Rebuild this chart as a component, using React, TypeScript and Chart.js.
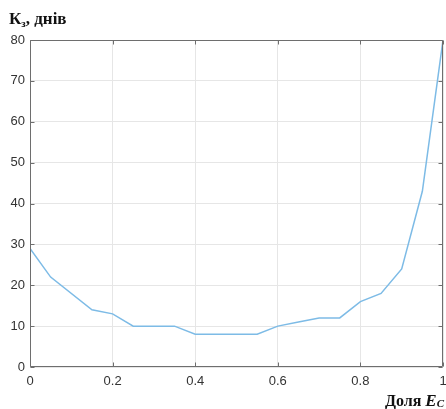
import React, { useEffect, useRef } from "react";
import { Chart, registerables } from "chart.js";

Chart.register(...registerables);

const shareX = [0, 0.05, 0.15, 0.2, 0.25, 0.35, 0.4, 0.55, 0.6, 0.65, 0.7, 0.75, 0.8, 0.85, 0.9, 0.95, 1.0];
const kzDays = [29, 22, 14, 13, 10, 10, 8, 8, 10, 11, 12, 12, 16, 18, 24, 43, 80];
const xTicks = [0, 0.2, 0.4, 0.6, 0.8, 1];
const yTicks = [0, 10, 20, 30, 40, 50, 60, 70, 80];

const AXIS_COLOR = "#6e6e6e";
const SERIF = "'Liberation Serif', 'DejaVu Serif', serif";

const boxPlugin = {
  id: "boxPlugin",
  afterDraw(chart: any) {
    const { ctx, chartArea: a, scales } = chart;
    ctx.save();
    ctx.strokeStyle = AXIS_COLOR;
    ctx.lineWidth = 1;
    const L = Math.round(a.left) + 0.5, R = Math.round(a.right) - 0.5;
    const T = Math.round(a.top) + 0.5, B = Math.round(a.bottom) - 0.5;
    ctx.beginPath();
    ctx.rect(L, T, R - L, B - T);
    ctx.stroke();
    const tl = 4;
    ctx.beginPath();
    for (const v of xTicks) {
      const x = Math.round(scales.x.getPixelForValue(v)) + 0.5;
      ctx.moveTo(x, B); ctx.lineTo(x, B - tl);
      ctx.moveTo(x, T); ctx.lineTo(x, T + tl);
    }
    for (const v of yTicks) {
      const y = Math.round(scales.y.getPixelForValue(v)) + 0.5;
      ctx.moveTo(L, y); ctx.lineTo(L + tl, y);
      ctx.moveTo(R, y); ctx.lineTo(R - tl, y);
    }
    ctx.stroke();

    // y-axis title: Кз, днів
    ctx.fillStyle = "#111";
    ctx.textBaseline = "alphabetic";
    ctx.textAlign = "left";
    let x = 9;
    const yb = 24;
    ctx.font = `bold 17px ${SERIF}`;
    ctx.fillText("К", x, yb);
    x += ctx.measureText("К").width;
    ctx.font = `bold 11px ${SERIF}`;
    ctx.fillText("з", x, yb + 3);
    x += ctx.measureText("з").width;
    ctx.font = `bold 17px ${SERIF}`;
    ctx.fillText(", днів", x, yb);

    // x-axis title: Доля Ec
    const xb = 406;
    ctx.font = `bold italic 11px ${SERIF}`;
    const wc = ctx.measureText("C").width;
    ctx.font = `bold italic 17px ${SERIF}`;
    const we = ctx.measureText("E").width;
    ctx.font = `bold 16px ${SERIF}`;
    const wd = ctx.measureText("Доля ").width;
    let sx = 444 - wc - we - wd;
    ctx.fillText("Доля ", sx, xb);
    sx += wd;
    ctx.font = `bold italic 17px ${SERIF}`;
    ctx.fillText("E", sx, xb);
    sx += we;
    ctx.font = `bold italic 11px ${SERIF}`;
    ctx.fillText("C", sx, xb + 1);
    ctx.restore();
  },
};

export default function App() {
  const ref = useRef<HTMLCanvasElement | null>(null);
  useEffect(() => {
    if (!ref.current) return;
    const chart = new Chart(ref.current, {
      type: "line",
      data: {
        datasets: [
          {
            data: shareX.map((x, i) => ({ x, y: kzDays[i] })),
            borderColor: "#7dbbe6",
            borderWidth: 1.5,
            pointRadius: 0,
            tension: 0,
            fill: false,
          },
        ],
      },
      options: {
        animation: false,
        responsive: false,
        maintainAspectRatio: false,
        layout: { padding: { left: 0, right: 3, top: 40, bottom: 0 } },
        plugins: { legend: { display: false }, tooltip: { enabled: false }, title: { display: false } },
        scales: {
          x: {
            type: "linear",
            min: 0,
            max: 1,
            afterBuildTicks: (s: any) => { s.ticks = xTicks.map((v) => ({ value: v })); },
            afterFit: (s: any) => { s.height = 42; s.paddingLeft = 0; s.paddingRight = 0; },
            grid: { color: "#e6e6e6", drawTicks: false },
            border: { display: false },
            ticks: {
              color: "#333",
              font: { family: "'Liberation Sans', Arial, sans-serif", size: 13 },
              padding: 7,
              maxRotation: 0,
              autoSkip: false,
              callback: (v: any) => String(Number(v)),
            },
          },
          y: {
            type: "linear",
            min: 0,
            max: 80,
            afterBuildTicks: (s: any) => { s.ticks = yTicks.map((v) => ({ value: v })); },
            afterFit: (s: any) => { s.width = 30; s.paddingTop = 0; s.paddingBottom = 0; },
            grid: { color: "#e6e6e6", drawTicks: false },
            border: { display: false },
            ticks: {
              color: "#333",
              font: { family: "'Liberation Sans', Arial, sans-serif", size: 13 },
              padding: 5,
              autoSkip: false,
            },
          },
        },
      },
      plugins: [boxPlugin],
    });
    return () => chart.destroy();
  }, []);
  return (
    <div style={{ position: "fixed", left: 0, top: 0, width: 446, height: 409, background: "#fff" }}>
      <canvas ref={ref} width={446} height={409} style={{ width: 446, height: 409, display: "block" }} />
    </div>
  );
}
